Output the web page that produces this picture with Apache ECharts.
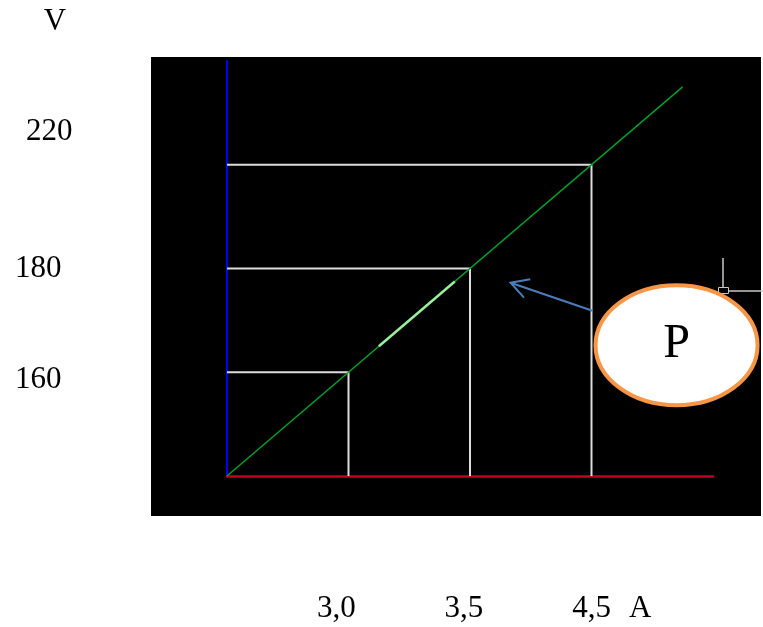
<!DOCTYPE html>
<html><head><meta charset="utf-8">
<script src="https://cdn.jsdelivr.net/npm/echarts@6/dist/echarts.min.js"></script>
<style>html,body{margin:0;padding:0;background:#fff}#c{width:763px;height:627px}</style>
</head><body><div id="c"></div>
<script>
// schematic V–A characteristic (axis units are schematic steps)
const pointIndex = [1, 2, 3];
const currentLabels = ['3,0', '3,5', '4,5', 'A'];
const currentLabelPos = [0.9, 1.95, 3.0, 3.4];
const voltageLabels = ['160', '180', '220'];
const voltageLabelPos = [0.925, 1.995, 3.316];
const characteristic = [[0, 0], [3.75, 3.75]];
const highlight = [[1.25, 1.25], [1.875, 1.875]];
const arrowFrom = [3.008, 1.593];
const arrowTo = [2.334, 1.863];
const bubbleCenter = [3.70, 1.26];
const bubbleLabel = 'P';

const FONT = '"Liberation Serif", "Times New Roman", serif';

function nearestLabel(v, pos, labels) {
  let best = 0, d = Infinity;
  pos.forEach((p, i) => { const dd = Math.abs(p - v); if (dd < d) { d = dd; best = i; } });
  return labels[best];
}

const projectionSeries = pointIndex.map(i => ({
  type: 'line', silent: true, symbol: 'none', z: 2,
  lineStyle: { color: '#dcdcdc', width: 2 },
  data: [[0, i], [i, i], [i, 0]]
}));

const chart = echarts.init(document.getElementById('c'), null, { renderer: 'canvas' });
chart.setOption({
  animation: false,
  backgroundColor: '#fff',
  graphic: [
    { type: 'rect', z: -10, shape: { x: 151, y: 57, width: 610, height: 459 }, style: { fill: '#000' } },
    { type: 'line', z: 1, shape: { x1: 723, y1: 258, x2: 723, y2: 288 }, style: { stroke: '#c8c8c8', lineWidth: 1.5 } },
    { type: 'line', z: 1, shape: { x1: 729, y1: 291, x2: 763, y2: 291 }, style: { stroke: '#c8c8c8', lineWidth: 1.5 } },
    { type: 'rect', z: 1, shape: { x: 718.5, y: 287.5, width: 10, height: 6 }, style: { stroke: '#c8c8c8', fill: 'none', lineWidth: 1 } }
  ],
  grid: { left: 227, right: 50, top: 61, bottom: 151, containLabel: false },
  xAxis: {
    type: 'value', min: 0, max: 4,
    axisLine: { show: true, lineStyle: { color: '#c0001e', width: 2.5 } },
    axisTick: { show: false }, splitLine: { show: false },
    axisLabel: {
      customValues: currentLabelPos, margin: 117,
      color: '#000', fontFamily: FONT, fontSize: 31,
      formatter: v => nearestLabel(v, currentLabelPos, currentLabels)
    }
  },
  yAxis: {
    type: 'value', min: 0, max: 4,
    name: 'V', nameLocation: 'end', nameGap: 24,
    nameTextStyle: { color: '#000', fontFamily: FONT, fontSize: 31, padding: [0, 344, 0, 0] },
    axisLine: { show: true, lineStyle: { color: '#0000ff', width: 2 } },
    axisTick: { show: false }, splitLine: { show: false },
    axisLabel: {
      customValues: voltageLabelPos, margin: 212, align: 'left',
      color: '#000', fontFamily: FONT, fontSize: 31,
      formatter: v => {
        const t = nearestLabel(v, voltageLabelPos, voltageLabels);
        return t === '220' ? '{b|' + t + '}' : '{a|' + t + '}';
      },
      rich: {
        a: { color: '#000', fontFamily: FONT, fontSize: 31 },
        b: { color: '#000', fontFamily: FONT, fontSize: 31, padding: [0, 0, 0, 11] }
      }
    }
  },
  series: projectionSeries.concat([
    { type: 'line', silent: true, symbol: 'none', z: 3,
      lineStyle: { color: '#00a02a', width: 1.5 }, data: characteristic },
    { type: 'line', silent: true, symbol: 'none', z: 4,
      lineStyle: { color: '#9af09a', width: 2.5 }, data: highlight },
    { type: 'custom', silent: true, clip: false, z: 5,
      data: [arrowFrom.concat(arrowTo)],
      renderItem: (params, api) => {
        const a = api.coord([api.value(0), api.value(1)]);
        const b = api.coord([api.value(2), api.value(3)]);
        const ang = Math.atan2(a[1] - b[1], a[0] - b[0]);
        const L = 20, w = 29 * Math.PI / 180;
        const h1 = [b[0] + L * Math.cos(ang - w), b[1] + L * Math.sin(ang - w)];
        const h2 = [b[0] + L * Math.cos(ang + w), b[1] + L * Math.sin(ang + w)];
        const st = { stroke: '#4a7ebb', lineWidth: 2, fill: null };
        return { type: 'group', children: [
          { type: 'polyline', shape: { points: [a, b] }, style: st },
          { type: 'polyline', shape: { points: [h1, b, h2] }, style: st }
        ]};
      }
    },
    { type: 'custom', silent: true, clip: false, z: 6,
      data: [bubbleCenter],
      renderItem: (params, api) => {
        const c = api.coord([api.value(0), api.value(1)]);
        return { type: 'group', children: [
          { type: 'ellipse', shape: { cx: c[0], cy: c[1], rx: 81, ry: 60 },
            style: { fill: '#fff', stroke: '#f79646', lineWidth: 4 } },
          { type: 'text', style: { text: bubbleLabel, x: c[0], y: c[1] - 1, align: 'center', verticalAlign: 'middle',
            font: '48px ' + FONT, fill: '#000' } }
        ]};
      }
    }
  ])
});
</script></body></html>
